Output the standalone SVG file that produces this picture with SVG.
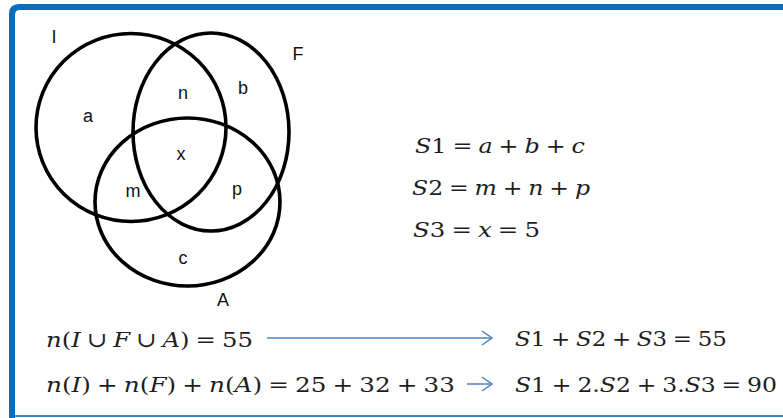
<svg xmlns="http://www.w3.org/2000/svg" width="783" height="418" viewBox="0 0 783 418">
<defs>
<style>
.set{fill:none;stroke:#000;stroke-width:3.6}
.lbl{font-family:"Liberation Sans",Arial,sans-serif;font-size:18px;fill:#111;text-anchor:middle}
.eq{font-family:"DejaVu Serif","Liberation Serif",serif;font-size:21px;word-spacing:-1.5px;fill:#1e1e1e}
.v{font-style:italic}
.arr{fill:none;stroke:#4f81bd;stroke-width:1.5}
</style>
<marker id="chev" viewBox="0 0 12 16" refX="11" refY="8" markerWidth="12" markerHeight="16" markerUnits="userSpaceOnUse" orient="auto">
<path d="M1 1 L11 8 L1 15" fill="none" stroke="#4f81bd" stroke-width="1.5"/>
</marker>
</defs>
<rect width="783" height="418" fill="#fff"/>
<g id="frame">
<path d="M9 418 V14 Q9 4 19 4 H783 V10 H20 Q15 10 15 15 V418 Z" fill="#0a6ebd"/>
<rect x="15" y="415" width="768" height="2" fill="#3a86c8"/>
</g>
<g id="set-I">
<ellipse class="set" cx="131" cy="127.5" rx="95" ry="94"/>
<text class="lbl" x="54" y="43">I</text>
</g>
<g id="set-F">
<ellipse class="set" cx="211" cy="132" rx="78" ry="99"/>
<text class="lbl" x="298" y="60">F</text>
</g>
<g id="set-A">
<ellipse class="set" cx="187.5" cy="202" rx="92.5" ry="84"/>
<text class="lbl" x="223" y="306">A</text>
</g>
<g id="regions">
<text class="lbl" x="88" y="122">a</text>
<text class="lbl" x="243" y="94">b</text>
<text class="lbl" x="183" y="99">n</text>
<text class="lbl" x="181" y="160">x</text>
<text class="lbl" x="133" y="197">m</text>
<text class="lbl" x="237" y="195">p</text>
<text class="lbl" x="183" y="264">c</text>
</g>
<g id="eq-S1"><text class="eq" x="415" y="153" textLength="170" lengthAdjust="spacingAndGlyphs"><tspan class="v">S</tspan>1 = <tspan class="v">a</tspan> + <tspan class="v">b</tspan> + <tspan class="v">c</tspan></text></g>
<g id="eq-S2"><text class="eq" x="412" y="195" textLength="178" lengthAdjust="spacingAndGlyphs"><tspan class="v">S</tspan>2 = <tspan class="v">m</tspan> + <tspan class="v">n</tspan> + <tspan class="v">p</tspan></text></g>
<g id="eq-S3"><text class="eq" x="413" y="237" textLength="127" lengthAdjust="spacingAndGlyphs"><tspan class="v">S</tspan>3 = <tspan class="v">x</tspan> = 5</text></g>
<g id="eq-union"><text class="eq" x="46" y="347" textLength="207" lengthAdjust="spacingAndGlyphs"><tspan class="v">n</tspan>(<tspan class="v">I</tspan> ∪ <tspan class="v">F</tspan> ∪ <tspan class="v">A</tspan>) = 55</text></g>
<g id="eq-sum"><text class="eq" x="46" y="392" textLength="409" lengthAdjust="spacingAndGlyphs"><tspan class="v">n</tspan>(<tspan class="v">I</tspan>) + <tspan class="v">n</tspan>(<tspan class="v">F</tspan>) + <tspan class="v">n</tspan>(<tspan class="v">A</tspan>) = 25 + 32 + 33</text></g>
<g id="eq-r1"><text class="eq" x="515" y="346" textLength="212" lengthAdjust="spacingAndGlyphs"><tspan class="v">S</tspan>1 + <tspan class="v">S</tspan>2 + <tspan class="v">S</tspan>3 = 55</text></g>
<g id="eq-r2"><text class="eq" x="515" y="392" textLength="262" lengthAdjust="spacingAndGlyphs"><tspan class="v">S</tspan>1 + 2.<tspan class="v">S</tspan>2 + 3.<tspan class="v">S</tspan>3 = 90</text></g>
<g id="connectors">
<line class="arr" x1="267" y1="338" x2="492" y2="338" marker-end="url(#chev)"/>
<line class="arr" x1="467" y1="384" x2="492" y2="384" marker-end="url(#chev)"/>
</g>
</svg>
